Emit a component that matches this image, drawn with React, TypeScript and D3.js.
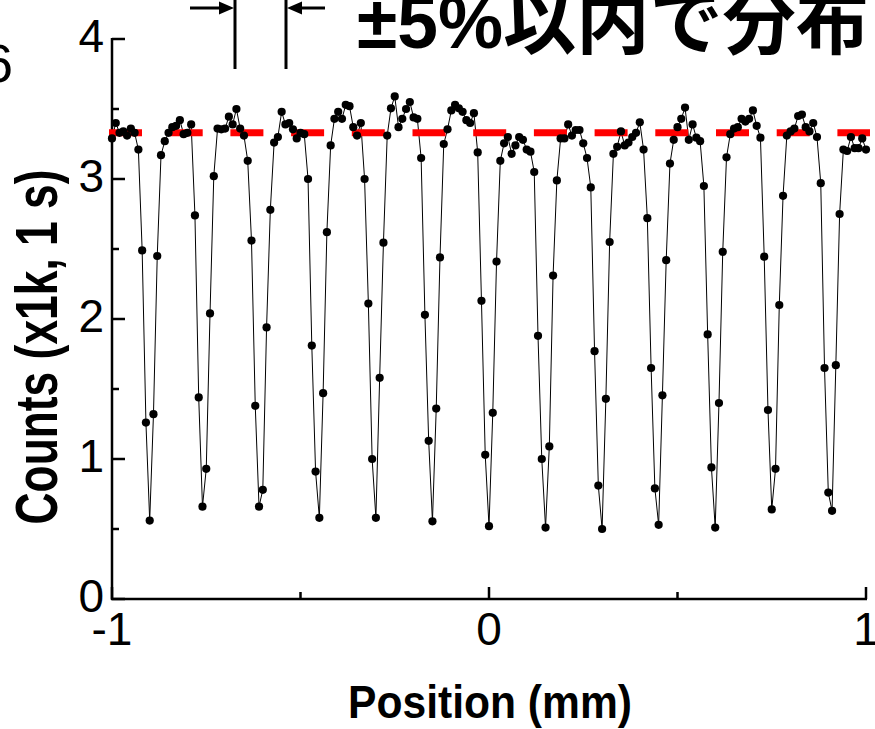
import React from 'react';
import * as d3 from 'd3';

// Scan positions (mm)
const positions = [
  -1.0, -0.99, -0.98, -0.97, -0.96, -0.95, -0.94, -0.93, -0.92, -0.91,
  -0.9, -0.89, -0.88, -0.87, -0.86, -0.85, -0.84, -0.83, -0.82, -0.81,
  -0.8, -0.79, -0.78, -0.77, -0.76, -0.75, -0.74, -0.73, -0.72, -0.71,
  -0.7, -0.69, -0.68, -0.67, -0.66, -0.65, -0.64, -0.63, -0.62, -0.61,
  -0.6, -0.59, -0.58, -0.57, -0.56, -0.55, -0.54, -0.53, -0.52, -0.51,
  -0.5, -0.49, -0.48, -0.47, -0.46, -0.45, -0.44, -0.43, -0.42, -0.41,
  -0.4, -0.39, -0.38, -0.37, -0.36, -0.35, -0.34, -0.33, -0.32, -0.31,
  -0.3, -0.29, -0.28, -0.27, -0.26, -0.25, -0.24, -0.23, -0.22, -0.21,
  -0.2, -0.19, -0.18, -0.17, -0.16, -0.15, -0.14, -0.13, -0.12, -0.11,
  -0.1, -0.09, -0.08, -0.07, -0.06, -0.05, -0.04, -0.03, -0.02, -0.01,
  0.0, 0.01, 0.02, 0.03, 0.04, 0.05, 0.06, 0.07, 0.08, 0.09,
  0.1, 0.11, 0.12, 0.13, 0.14, 0.15, 0.16, 0.17, 0.18, 0.19,
  0.2, 0.21, 0.22, 0.23, 0.24, 0.25, 0.26, 0.27, 0.28, 0.29,
  0.3, 0.31, 0.32, 0.33, 0.34, 0.35, 0.36, 0.37, 0.38, 0.39,
  0.4, 0.41, 0.42, 0.43, 0.44, 0.45, 0.46, 0.47, 0.48, 0.49,
  0.5, 0.51, 0.52, 0.53, 0.54, 0.55, 0.56, 0.57, 0.58, 0.59,
  0.6, 0.61, 0.62, 0.63, 0.64, 0.65, 0.66, 0.67, 0.68, 0.69,
  0.7, 0.71, 0.72, 0.73, 0.74, 0.75, 0.76, 0.77, 0.78, 0.79,
  0.8, 0.81, 0.82, 0.83, 0.84, 0.85, 0.86, 0.87, 0.88, 0.89,
  0.9, 0.91, 0.92, 0.93, 0.94, 0.95, 0.96, 0.97, 0.98, 0.99,
  1.0,
];

// Counts (x1k, 1 s)
const counts = [
  3.29, 3.40, 3.33, 3.34, 3.31, 3.36, 3.33, 3.21, 2.49, 1.26,
  0.56, 1.32, 2.45, 3.17, 3.27, 3.33, 3.37, 3.38, 3.42, 3.32,
  3.33, 3.39, 2.74, 1.44, 0.66, 0.93, 2.04, 3.02, 3.36, 3.355,
  3.36, 3.445, 3.39, 3.50, 3.36, 3.31, 3.13, 2.56, 1.38, 0.66,
  0.78, 1.94, 2.78, 3.26, 3.30, 3.48, 3.39, 3.40, 3.355, 3.29,
  3.33, 3.32, 3.00, 1.81, 0.91, 0.58, 1.47, 2.62, 3.24, 3.43,
  3.48, 3.43, 3.53, 3.52, 3.37, 3.31, 3.40, 3.00, 2.11, 1.00,
  0.58, 1.58, 2.545, 3.31, 3.505, 3.59, 3.37, 3.43, 3.50, 3.55,
  3.44, 3.43, 3.15, 2.03, 1.13, 0.555, 1.36, 2.44, 3.25, 3.355,
  3.49, 3.53, 3.505, 3.48, 3.42, 3.40, 3.47, 3.19, 2.13, 1.03,
  0.52, 1.33, 2.41, 3.13, 3.255, 3.30, 3.18, 3.24, 3.30, 3.28,
  3.21, 3.195, 3.05, 1.88, 1.00, 0.51, 1.09, 2.31, 2.99, 3.29,
  3.29, 3.39, 3.31, 3.35, 3.35, 3.255, 3.15, 2.94, 1.77, 0.81,
  0.50, 1.43, 2.55, 3.18, 3.23, 3.34, 3.24, 3.26, 3.30, 3.33,
  3.405, 3.21, 2.72, 1.65, 0.79, 0.53, 1.455, 2.42, 3.11, 3.28,
  3.37, 3.43, 3.51, 3.28, 3.39, 3.295, 3.27, 2.95, 1.89, 0.94,
  0.51, 1.40, 2.48, 3.155, 3.32, 3.36, 3.37, 3.43, 3.41, 3.43,
  3.49, 3.38, 3.295, 2.445, 1.35, 0.64, 0.93, 2.10, 2.88, 3.31,
  3.34, 3.36, 3.45, 3.46, 3.37, 3.34, 3.40, 3.30, 2.97, 1.65,
  0.76, 0.63, 1.67, 2.75, 3.21, 3.20, 3.30, 3.22, 3.22, 3.29,
  3.21,
];

const xTicks = [-1, 0, 1];
const xMinorTicks = [-0.5, 0.5];
const yTicks = [0, 1, 2, 3, 4];
const yMinorTicks = [0.5, 1.5, 2.5, 3.5];
const referenceLevel = 3.33;

const xTitle = 'Position (mm)';
const yTitle = 'Counts (x1k, 1 s)';
const headline = '±5%以内で分布';
const cornerLabel = '6';

const W = 875;
const H = 729;
const latin = '"Liberation Sans", Arial, Helvetica, sans-serif';
const mixed = '"Liberation Sans", Arial, "Noto Sans CJK JP", sans-serif';

export default function App() {
  const x = d3.scaleLinear().domain([-1, 1]).range([112, 866]);
  const y = d3.scaleLinear().domain([0, 4]).range([599, 39]);
  const pts = positions.map((p, i) => [p, counts[i]] as [number, number]);
  const line = d3
    .line<[number, number]>()
    .x((d) => x(d[0]))
    .y((d) => y(d[1]));

  const x0 = x(-1);
  const y0 = y(0);

  const arrowY = 8;
  const leftBar = 235;
  const rightBar = 286;

  return (
    <svg
      width={W}
      height={H}
      viewBox={`0 0 ${W} ${H}`}
      style={{ position: 'absolute', left: 0, top: 0, background: '#fff' }}
    >
      <rect x={0} y={0} width={W} height={H} fill="#fff" />

      {/* corner label (cut off) */}
      <text x={13} y={82} fontFamily={latin} fontSize={54} textAnchor="end" fill="#000">
        {cornerLabel}
      </text>

      {/* headline */}
      <text
        x={357}
        y={48}
        fontFamily={mixed}
        fontSize={74}
        fontWeight="bold"
        textLength={512}
        lengthAdjust="spacingAndGlyphs"
        fill="#000"
      >
        {headline}
      </text>

      {/* arrows */}
      <line x1={leftBar} x2={leftBar} y1={0} y2={69} stroke="#000" strokeWidth={3} />
      <line x1={rightBar} x2={rightBar} y1={0} y2={69} stroke="#000" strokeWidth={3} />
      <line x1={190} x2={leftBar - 12} y1={arrowY} y2={arrowY} stroke="#000" strokeWidth={3} />
      <path
        d={`M${leftBar - 1},${arrowY} L${leftBar - 16},${arrowY - 6.5} L${leftBar - 16},${arrowY + 6.5} Z`}
        fill="#000"
      />
      <line x1={rightBar + 12} x2={325} y1={arrowY} y2={arrowY} stroke="#000" strokeWidth={3} />
      <path
        d={`M${rightBar + 1},${arrowY} L${rightBar + 16},${arrowY - 6.5} L${rightBar + 16},${arrowY + 6.5} Z`}
        fill="#000"
      />

      {/* axes */}
      <line x1={x0} x2={x0} y1={y(4) - 1} y2={y0 + 1} stroke="#000" strokeWidth={2.5} />
      <line x1={x0 - 1} x2={x(1) + 1} y1={y0} y2={y0} stroke="#000" strokeWidth={2.5} />
      {yTicks.map((t) => (
        <line key={'yt' + t} x1={x0} x2={x0 + 13} y1={y(t)} y2={y(t)} stroke="#000" strokeWidth={2.5} />
      ))}
      {yMinorTicks.map((t) => (
        <line key={'ym' + t} x1={x0} x2={x0 + 7} y1={y(t)} y2={y(t)} stroke="#000" strokeWidth={2.5} />
      ))}
      {xTicks.map((t) => (
        <line key={'xt' + t} x1={x(t)} x2={x(t)} y1={y0} y2={y0 - 12} stroke="#000" strokeWidth={2.5} />
      ))}
      {xMinorTicks.map((t) => (
        <line key={'xm' + t} x1={x(t)} x2={x(t)} y1={y0} y2={y0 - 7} stroke="#000" strokeWidth={2.5} />
      ))}

      {/* tick labels */}
      {yTicks.map((t) => (
        <text
          key={'yl' + t}
          x={x0 - 8}
          y={y(t) + 13}
          fontFamily={latin}
          fontSize={46}
          textAnchor="end"
          fill="#000"
        >
          {t}
        </text>
      ))}
      {xTicks.map((t) => (
        <text
          key={'xl' + t}
          x={x(t)}
          y={645}
          fontFamily={latin}
          fontSize={46}
          textAnchor="middle"
          fill="#000"
        >
          {t}
        </text>
      ))}

      {/* axis titles */}
      <text
        x={490}
        y={718}
        fontFamily={latin}
        fontSize={47}
        fontWeight="bold"
        textAnchor="middle"
        textLength={284}
        lengthAdjust="spacingAndGlyphs"
        fill="#000"
      >
        {xTitle}
      </text>
      <text
        transform={`translate(57, ${347}) rotate(-90)`}
        fontFamily={latin}
        fontSize={59}
        fontWeight="bold"
        textAnchor="middle"
        textLength={355}
        lengthAdjust="spacingAndGlyphs"
        fill="#000"
      >
        {yTitle}
      </text>

      {/* data line */}
      <path d={line(pts) || ''} fill="none" stroke="#000" strokeWidth={1} />

      {/* reference level */}
      <line
        x1={109}
        x2={870}
        y1={y(referenceLevel)}
        y2={y(referenceLevel)}
        stroke="#ff0000"
        strokeWidth={7}
        strokeDasharray="33 27.7"
      />

      {/* data points */}
      {pts.map((d, i) => (
        <circle key={i} cx={x(d[0])} cy={y(d[1])} r={4.1} fill="#000" />
      ))}
    </svg>
  );
}
